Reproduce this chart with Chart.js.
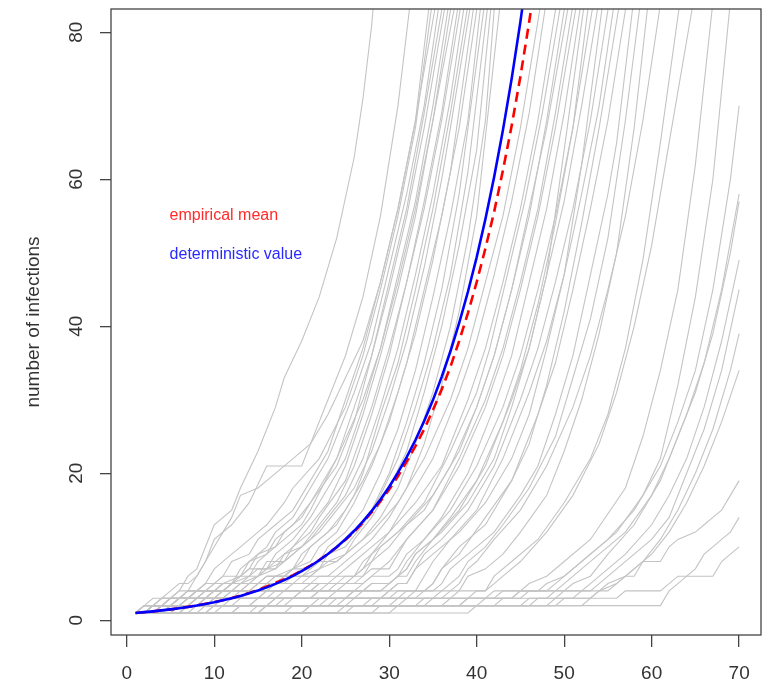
<!DOCTYPE html>
<html>
<head>
<meta charset="utf-8">
<script src="https://cdn.jsdelivr.net/npm/chart.js@4.4.1/dist/chart.umd.min.js"></script>
<style>
  html, body { margin: 0; padding: 0; background: #fff; }
  #wrap { width: 768px; height: 685px; }
</style>
</head>
<body>
<div id="wrap"><canvas id="chart" width="768" height="685"></canvas></div>
<script>
// Axis ticks
const xTicks = [0, 10, 20, 30, 40, 50, 60, 70];
const yTicks = [0, 20, 40, 60, 80];

// Deterministic curve and empirical mean, one value per day
const days = [1, 2, 3, 4, 5, 6, 7, 8, 9, 10, 11, 12, 13, 14, 15, 16, 17, 18, 19, 20, 21, 22, 23, 24,
  25, 26, 27, 28, 29, 30, 31, 32, 33, 34, 35, 36, 37, 38, 39, 40, 41, 42, 43, 44, 45, 46, 47];
const deterministic = [1.00, 1.11, 1.22, 1.35, 1.49, 1.65, 1.82, 2.01, 2.23, 2.46, 2.72, 3.00, 3.32,
  3.67, 4.06, 4.48, 4.95, 5.47, 6.05, 6.69, 7.39, 8.17, 9.03, 9.97, 11.02, 12.18, 13.46, 14.88, 16.44,
  18.17, 20.09, 22.20, 24.53, 27.11, 29.96, 33.12, 36.60, 40.45, 44.70, 49.40, 54.60, 60.34, 66.69,
  73.70, 81.45, 90.02, 99.48];
const empiricalMean = [1.00, 1.10, 1.22, 1.35, 1.49, 1.65, 1.83, 2.02, 2.24, 2.47, 2.74, 3.03, 3.36,
  3.72, 4.13, 4.60, 5.10, 5.60, 6.15, 6.75, 7.45, 8.20, 9.05, 9.95, 10.95, 12.05, 13.30, 14.70, 16.20,
  17.80, 19.60, 21.60, 23.70, 26.00, 28.60, 31.40, 34.50, 38.00, 41.80, 46.00, 50.60, 55.60, 61.20,
  67.30, 74.00, 81.40, 89.50];

// Simulated runs as (day, infections) vertex pairs
const simRuns = [
  [1,1, 3,1, 4,2, 5,3, 6,4, 7,6, 8,7, 9,10, 10,13, 12,15, 13,18, 15,23, 16,26, 17,29, 18,33, 20,38, 22,44, 24,52, 26,63, 27,71, 28,81, 28.5,88],
  [1,1, 4,1, 5,2, 6,3, 7,4, 8,6, 9,8, 10,11, 12,13, 14,16, 16,21, 20,21, 21,24, 23,30, 25,36, 27,44, 29,55, 31,70, 32.3,83, 33,90],
  [1,1, 2,1, 3,2, 4,3, 5,4, 6,5, 7,5, 8,6, 9,8, 10,10, 11,12, 12,14, 13,17, 15,18, 17,20, 19,22, 21,24, 23,28, 25,33, 27,38, 29,46, 31,56, 33,68, 34.5,83, 35.5,91],
  [1,1, 2,2, 4,2, 5,3, 7,3, 8,4, 9,5, 10,7, 12,9, 13,10, 15,12, 16,13, 18,16, 19,18, 22,22, 25,29, 27,36, 29,45, 31,55, 33,67, 34.8,83, 35.8,91],
  [1,1, 3,1, 4,2, 5,2, 6,3, 8,3, 9,4, 10,5, 11,6, 12,8, 14,9, 15,11, 17,13, 19,15, 20,17, 23,23, 25,30, 27,37, 29,46, 31,56, 33,68, 35.2,83, 36.2,91],
  [1,1, 2,1, 3,2, 6,2, 7,3, 8,4, 11,4, 12,5, 13,7, 14,8, 16,10, 17,12, 19,14, 21,18, 23,22, 26,31, 28,38, 30,48, 32,58, 34,70, 35.6,83, 36.6,91],
  [1,1, 2,2, 3,3, 5,3, 6,4, 8,4, 9,5, 10,5, 11,6, 13,6, 14,8, 16,9, 17,11, 19,13, 21,16, 23,20, 24,22, 26,29, 28,36, 30,46, 32,56, 34,69, 36,83, 37,91],
  [1,1, 4,1, 5,2, 6,3, 8,3, 9,4, 10,5, 12,5, 13,6, 14,7, 15,9, 17,10, 18,12, 20,14, 21,16, 24,21, 26,27, 28,36, 30,45, 32,55, 34,67, 36.3,83, 37.3,91],
  [1,1, 3,1, 4,2, 7,2, 8,3, 9,3, 10,4, 11,5, 13,5, 14,6, 15,8, 16,9, 18,11, 20,13, 21,15, 24,22, 27,30, 29,37, 31,47, 33,57, 35,70, 36.7,83, 37.7,91],
  [1,1, 2,1, 3,2, 4,3, 6,3, 7,4, 10,4, 11,5, 13,6, 14,7, 16,7, 17,9, 19,11, 21,14, 22,16, 25,22, 27,29, 29,37, 31,46, 33,56, 35,68, 37,83, 38,91],
  [1,1, 5,1, 6,2, 7,2, 8,3, 10,3, 11,4, 12,5, 14,6, 15,6, 16,7, 18,9, 19,10, 21,13, 23,16, 25,21, 27,28, 29,36, 31,45, 33,55, 35,68, 37.4,83, 38.4,91],
  [1,1, 2,2, 5,2, 6,3, 9,3, 10,4, 12,4, 13,5, 15,6, 16,8, 18,8, 19,10, 21,12, 22,14, 25,19, 28,29, 30,37, 32,46, 34,57, 36,69, 37.8,83, 38.8,91],
  [1,1, 3,1, 4,2, 5,3, 8,3, 9,4, 11,4, 12,5, 14,5, 15,6, 17,7, 18,9, 20,10, 22,13, 24,16, 26,21, 28,28, 30,36, 32,46, 34,56, 36,68, 38.1,83, 39.1,91],
  [1,1, 2,1, 3,2, 5,2, 6,3, 7,3, 8,4, 10,4, 11,5, 14,5, 15,6, 16,7, 18,8, 19,9, 21,11, 23,14, 25,17, 27,22, 29,29, 31,37, 33,47, 35,58, 37,71, 38.5,83, 39.5,91],
  [1,1, 4,1, 5,2, 8,2, 9,3, 11,3, 12,4, 13,5, 15,5, 16,6, 18,6, 19,7, 20,9, 22,11, 24,13, 26,17, 27,20, 29,28, 31,35, 33,45, 35,56, 37,69, 38.9,83, 39.9,91],
  [1,1, 2,1, 3,2, 4,2, 5,3, 7,3, 8,4, 9,5, 12,5, 13,6, 14,6, 15,7, 17,7, 18,8, 20,10, 22,12, 24,15, 26,18, 28,23, 30,30, 32,38, 34,48, 36,60, 37,67, 39.2,83, 40.2,91],
  [1,1, 3,1, 4,2, 6,2, 7,3, 10,3, 11,4, 13,4, 14,5, 16,5, 17,6, 19,7, 20,8, 21,10, 23,12, 25,15, 27,19, 29,24, 31,31, 33,39, 35,49, 37,61, 39.6,83, 40.6,91],
  [1,1, 2,2, 3,2, 4,3, 6,3, 7,4, 11,4, 12,5, 15,5, 16,6, 18,6, 19,7, 21,8, 22,10, 24,12, 26,16, 28,21, 30,27, 32,35, 34,45, 36,55, 38,67, 40,83, 41,91],
  [1,1, 5,1, 6,2, 9,2, 10,3, 12,3, 13,4, 15,4, 16,5, 17,6, 19,6, 20,7, 22,8, 23,10, 25,12, 27,15, 29,20, 31,26, 33,34, 35,44, 37,55, 39,68, 40.4,83, 41.4,91],
  [1,1, 3,1, 4,2, 5,2, 6,3, 9,3, 10,4, 14,4, 15,5, 17,5, 18,6, 20,6, 21,7, 22,8, 24,10, 26,12, 28,15, 30,20, 32,27, 34,35, 36,45, 38,58, 40.8,83, 41.8,91],
  [1,1, 2,1, 3,2, 7,2, 8,3, 11,3, 12,4, 14,4, 15,5, 18,5, 19,6, 21,6, 22,7, 23,9, 25,10, 27,13, 29,17, 31,22, 33,29, 35,37, 37,47, 39,61, 41.2,83, 42.2,91],
  [1,1, 4,1, 5,2, 7,2, 8,3, 10,3, 11,4, 16,4, 17,5, 19,5, 20,6, 22,7, 23,8, 25,9, 26,11, 28,14, 30,18, 32,23, 34,31, 36,40, 38,51, 40,64, 41.6,83, 42.6,91],
  [1,1, 2,2, 6,2, 7,3, 9,3, 10,4, 13,4, 14,5, 17,5, 18,6, 21,6, 22,7, 24,8, 25,9, 27,11, 29,14, 31,18, 33,24, 35,31, 37,40, 39,52, 41,68, 42,83, 43,91],
  [1,1, 3,1, 4,2, 8,2, 9,3, 13,3, 14,4, 16,4, 17,5, 20,5, 21,6, 23,6, 24,7, 26,9, 28,11, 30,14, 32,18, 34,24, 36,32, 38,42, 40,55, 42.6,83, 43.6,91],
  [1,1, 2,1, 3,2, 4,2, 5,3, 7,3, 8,4, 11,4, 12,5, 15,5, 16,6, 18,6, 19,7, 21,7, 22,8, 24,8, 25,9, 28,12, 31,16, 34,22, 37,30, 39,37, 41,46, 43,55, 45,67, 47.2,83, 48.2,91],
  [1,1, 4,1, 5,2, 9,2, 10,3, 13,3, 14,4, 18,4, 19,5, 21,5, 22,6, 24,6, 25,7, 26,8, 28,10, 30,12, 32,16, 35,22, 38,31, 40,38, 42,47, 44,57, 46,69, 47.8,83, 48.8,91],
  [1,1, 5,1, 6,2, 11,2, 12,3, 15,3, 16,4, 20,4, 21,5, 23,5, 24,6, 26,6, 27,7, 28,9, 30,12, 33,16, 36,21, 39,30, 41,37, 43,46, 45,56, 47,68, 49,83, 50,91],
  [1,1, 3,1, 4,2, 10,2, 11,3, 17,3, 18,4, 21,4, 22,5, 24,5, 25,6, 26,6, 27,8, 28,9, 31,12, 34,16, 37,23, 40,31, 41.5,37, 43.5,47, 45.5,57, 47.5,69, 49.5,83, 50.5,91],
  [1,1, 2,2, 8,2, 9,3, 16,3, 17,4, 22,4, 23,5, 25,5, 26,6, 27,7, 28,8, 29,10, 31,12, 34,15, 37,21, 40,29, 42,36, 44,45, 46,55, 48,68, 50,83, 51,91],
  [1,1, 6,1, 7,2, 12,2, 13,3, 15,3, 16,4, 21,4, 22,5, 25,5, 26,6, 27,6, 28,8, 30,10, 32,13, 35,17, 38,23, 40,29, 42,36, 44,45, 46,56, 48,67, 50.4,83, 51.4,91],
  [1,1, 3,1, 4,2, 10,2, 11,3, 19,3, 20,4, 23,4, 24,5, 26,5, 27,6, 28,7, 30,7, 31,9, 32,11, 35,15, 38,22, 41,30, 43,37, 45,46, 47,56, 49,69, 50.9,83, 51.9,91],
  [1,1, 4,1, 5,2, 14,2, 15,3, 19,3, 20,4, 24,4, 25,5, 27,5, 28,6, 29,7, 30,8, 32,11, 35,15, 38,21, 41,29, 43,36, 45,45, 47,55, 49,67, 51.3,83, 52.3,91],
  [1,1, 2,1, 3,2, 14,2, 15,3, 21,3, 22,4, 26,4, 27,5, 28,6, 30,6, 31,7, 32,9, 34,11, 36,14, 39,20, 42,29, 44,36, 46,46, 48,56, 50,69, 51.8,83, 52.8,91],
  [1,1, 7,1, 8,2, 16,2, 17,3, 23,3, 24,4, 27,4, 28,5, 30,5, 31,6, 32,7, 33,9, 36,12, 39,16, 42,22, 44,29, 46,37, 48,47, 50,64, 52.2,83, 53.2,91],
  [1,1, 4,1, 5,2, 9,2, 10,3, 21,3, 22,4, 27,4, 28,5, 30,5, 31,6, 32,7, 33,9, 35,11, 37,14, 40,19, 43,27, 45,34, 47,43, 49,54, 51,67, 52.7,83, 53.7,91],
  [1,1, 2,1, 3,2, 18,2, 19,3, 25,3, 26,4, 29,4, 30,5, 31,6, 32,8, 34,11, 37,15, 40,21, 43,29, 45,36, 47,45, 49,55, 51,67, 53.2,83, 54.2,91],
  [1,1, 9,1, 10,2, 16,2, 17,3, 25,3, 26,4, 29,4, 30,5, 31,6, 32,6, 33,8, 35,11, 38,15, 41,21, 44,30, 46,37, 48,47, 50,57, 52,70, 53.8,83, 54.8,91],
  [1,1, 3,1, 4,2, 21,2, 22,3, 26,3, 27,4, 30,4, 31,5, 32,5, 33,7, 35,9, 38,12, 41,16, 44,22, 46,28, 48,37, 50,47, 52,62, 54.3,83, 55.3,91],
  [1,1, 12,1, 13,2, 23,2, 24,3, 29,3, 30,4, 31,5, 32,5, 33,7, 34,9, 36,11, 39,15, 42,21, 45,30, 47,37, 49,46, 51,56, 53,68, 55,83, 56,91],
  [1,1, 4,1, 5,2, 24,2, 25,3, 29,3, 30,4, 33,4, 34,6, 35,8, 37,11, 40,15, 43,22, 46,31, 48,38, 50,47, 52,58, 54,70, 55.6,83, 56.6,91],
  [1,1, 15,1, 16,2, 22,2, 23,3, 31,3, 32,4, 34,4, 35,5, 36,7, 38,9, 41,14, 44,19, 46,24, 48,32, 50,42, 52,54, 54,67, 56.2,83, 57.2,91],
  [1,1, 6,1, 7,2, 27,2, 28,3, 33,3, 34,4, 35,5, 36,7, 38,10, 41,13, 44,19, 47,28, 49,35, 51,45, 53,56, 55,68, 57,83, 58,91],
  [1,1, 3,1, 4,2, 17,2, 18,3, 30,3, 31,4, 35,4, 36,5, 37,7, 39,9, 42,12, 45,17, 47,21, 49,28, 51,36, 53,47, 55,58, 56,65, 57.8,83, 58.8,91],
  [1,1, 10,1, 11,2, 25,2, 26,3, 32,3, 33,4, 36,4, 37,5, 38,6, 39,8, 41,10, 43,13, 46,18, 49,25, 51,33, 53,41, 55,52, 57,68, 58.6,83, 59.6,91],
  [1,1, 5,1, 6,2, 28,2, 29,3, 35,3, 36,4, 38,4, 39,6, 41,7, 43,9, 45,12, 48,17, 50,23, 52,30, 54,39, 56,50, 58,67, 59.5,83, 60.5,91],
  [1,1, 20,1, 21,2, 31,2, 32,3, 36,3, 37,4, 38,5, 39,7, 40,8, 42,11, 45,15, 48,21, 51,29, 53,36, 55,45, 57,55, 59,68, 60.9,83, 61.9,91],
  [1,1, 8,1, 9,2, 30,2, 31,3, 37,3, 38,4, 41,4, 42,6, 44,8, 47,11, 50,16, 53,22, 55,28, 57,37, 59,49, 61,65, 63.1,83, 64.1,91],
  [1,1, 14,1, 15,2, 34,2, 35,3, 39,3, 40,4, 41,4, 42,5, 43,6, 45,8, 48,12, 51,17, 54,24, 56,31, 58,40, 60,51, 62,65, 64.6,83, 65.6,91],
  [1,1, 24,1, 25,2, 33,2, 34,3, 41,3, 42,4, 45,4, 46,5, 48,6, 50,8, 53,11, 57,18, 59,25, 61,34, 63,45, 65,62, 66.9,83, 67.9,91],
  [1,1, 30,1, 31,2, 38,2, 39,3, 44,3, 45,4, 48,4, 49,5, 51,7, 53,9, 56,12, 59,17, 61,22, 63,32, 65,44, 67,60, 68.9,83, 69.9,91],
  [1,1, 12,1, 13,2, 36,2, 37,3, 42,3, 43,4, 47,4, 48,5, 50,6, 52,8, 55,11, 58,15, 61,21, 63,27, 65,34, 67,45, 69,60, 70,70],
  [1,1, 18,1, 19,2, 40,2, 41,3, 45,3, 46,4, 49,4, 50,5, 52,7, 54,9, 57,12, 60,17, 62,22, 64,28, 66,35, 68,45, 70,58],
  [1,1, 6,1, 7,2, 38,2, 39,3, 44,3, 45,4, 50,4, 51,5, 53,6, 55,9, 58,13, 61,19, 63,25, 65,31, 67,39, 69,50, 70,57],
  [1,1, 25,1, 26,2, 42,2, 43,3, 48,3, 49,4, 52,4, 53,5, 55,7, 57,9, 60,13, 62,17, 64,22, 66,29, 68,38, 70,49],
  [1,1, 39,1, 40,2, 45,2, 46,3, 49,3, 50,4, 53,4, 54,5, 56,7, 58,9, 60,11, 62,14, 64,20, 66,26, 68,34, 70,45],
  [1,1, 9,1, 10,2, 46,2, 47,3, 51,3, 52,4, 54,4, 55,5, 57,6, 59,8, 61,11, 63,15, 65,20, 67,26, 69,34, 70,39],
  [1,1, 20,1, 21,2, 48,2, 49,3, 53,3, 54,4, 56,5, 58,7, 60,9, 62,12, 64,16, 66,21, 68,27, 70,34],
  [1,1, 15,1, 16,2, 49,2, 50,3, 53,3, 54,4, 55,4, 56,5, 57,6, 58,6, 59,8, 61,8, 62,10, 63,11, 65,12, 66,13, 67,14, 68,15, 69,17, 70,19],
  [1,1, 28,1, 29,2, 52,2, 53,3, 56,3, 57,4, 61,4, 62,5, 63,6, 64,6, 65,7, 66,9, 67,10, 68,11, 69,12, 70,14],
  [1,1, 4,1, 5,2, 61,2, 62,4, 63,5, 64,6, 67,6, 68,8, 69,9, 70,10]
];

const noteLabels = ['empirical mean', 'deterministic value'];
const noteColors = ['#ff2a2a', '#2a2aff'];

const FONT = '"Liberation Sans", Arial, sans-serif';

function toPoints(xs, ys) {
    return xs.map((x, i) => ({ x: x, y: ys[i] }));
}

function runToPoints(run) {
    const pts = [];
    for (let i = 0; i < run.length; i += 2) {
        pts.push({ x: run[i], y: run[i + 1] });
    }
    return pts;
}

// Frame around the plot region plus the two coloured notes
const framePlugin = {
    id: 'frame',
    afterDatasetsDraw(chart) {
        const { ctx, chartArea, scales } = chart;
        ctx.save();
        ctx.strokeStyle = '#444';
        ctx.lineWidth = 1.3;
        ctx.strokeRect(chartArea.left, chartArea.top,
            chartArea.right - chartArea.left, chartArea.bottom - chartArea.top);

        ctx.font = '16px ' + FONT;
        ctx.textBaseline = 'middle';
        ctx.textAlign = 'left';
        const noteY = [55.1, 49.8];
        noteLabels.forEach((label, i) => {
            ctx.fillStyle = noteColors[i];
            ctx.fillText(label, scales.x.getPixelForValue(4.9), scales.y.getPixelForValue(noteY[i]));
        });
        ctx.restore();
    }
};

const datasets = [];

datasets.push({
    label: 'deterministic value',
    data: toPoints(days, deterministic),
    borderColor: '#0000ff',
    borderWidth: 2.6,
    pointRadius: 0,
    order: 0
});

datasets.push({
    label: 'empirical mean',
    data: toPoints(days, empiricalMean),
    borderColor: '#ff0000',
    borderWidth: 2.6,
    borderDash: [10, 6],
    pointRadius: 0,
    order: 1
});

simRuns.forEach((run, i) => {
    datasets.push({
        label: 'run ' + (i + 1),
        data: runToPoints(run),
        borderColor: '#c4c4c4',
        borderWidth: 1.1,
        pointRadius: 0,
        order: 2
    });
});

const ctx = document.getElementById('chart').getContext('2d');
new Chart(ctx, {
    type: 'line',
    data: { datasets: datasets },
    options: {
        responsive: false,
        animation: false,
        events: [],
        devicePixelRatio: 1,
        layout: { padding: { top: 9, right: 7, left: 0, bottom: 0 } },
        elements: { line: { tension: 0 } },
        plugins: {
            legend: { display: false },
            tooltip: { enabled: false }
        },
        scales: {
            x: {
                type: 'linear',
                min: -1.8,
                max: 72.5,
                afterBuildTicks: (scale) => { scale.ticks = xTicks.map(v => ({ value: v })); },
                afterFit: (scale) => { scale.height = 50; scale.paddingLeft = 0; scale.paddingRight = 0; },
                border: { display: false },
                grid: { drawOnChartArea: false, drawTicks: true, tickLength: 12, tickColor: '#444', lineWidth: 1.3 },
                ticks: {
                    font: { family: FONT, size: 19 },
                    color: '#333',
                    padding: 15,
                    maxRotation: 0,
                    autoSkip: false
                }
            },
            y: {
                type: 'linear',
                min: -2.0,
                max: 83.17,
                afterBuildTicks: (scale) => { scale.ticks = yTicks.map(v => ({ value: v })); },
                afterFit: (scale) => { scale.width = 111; scale.paddingTop = 0; scale.paddingBottom = 0; },
                border: { display: false },
                grid: { drawOnChartArea: false, drawTicks: true, tickLength: 11, tickColor: '#444', lineWidth: 1.3 },
                ticks: {
                    font: { family: FONT, size: 19 },
                    color: '#333',
                    padding: 13,
                    minRotation: 90,
                    maxRotation: 90,
                    crossAlign: 'center',
                    autoSkip: false
                },
                title: {
                    display: true,
                    text: 'number of infections',
                    font: { family: FONT, size: 19 },
                    color: '#333',
                    padding: { top: 22, bottom: 0 }
                }
            }
        }
    },
    plugins: [framePlugin]
});
</script>
</body>
</html>
